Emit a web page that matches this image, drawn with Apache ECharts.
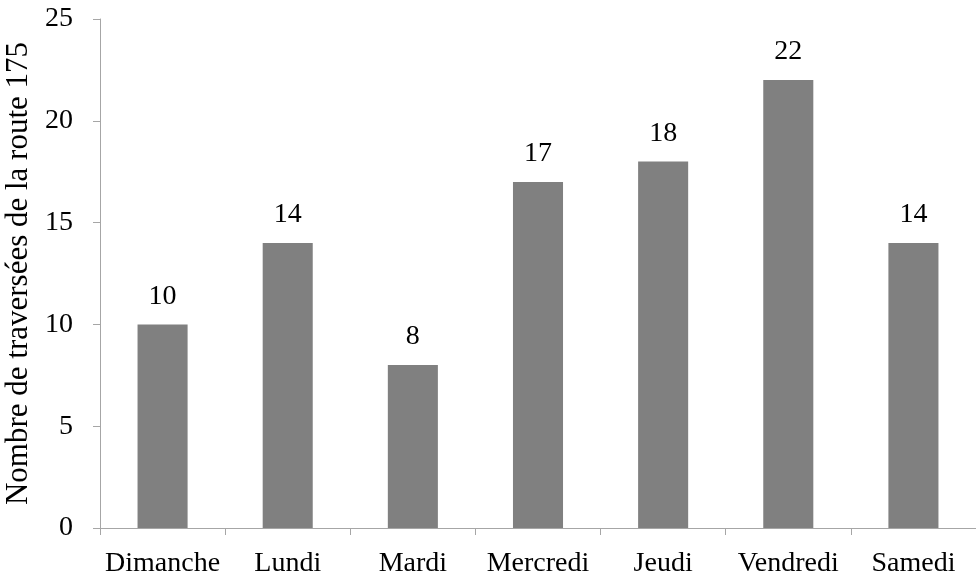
<!DOCTYPE html>
<html>
<head>
<meta charset="utf-8">
<script src="https://cdn.jsdelivr.net/npm/echarts@6/dist/echarts.min.js"></script>
<style>
  html, body { margin: 0; padding: 0; background: #fff; }
  #chart { width: 976px; height: 580px; }
</style>
</head>
<body>
<div id="chart"></div>
<script>
// Weekly crossings of route 175, by day
const days = ['Dimanche', 'Lundi', 'Mardi', 'Mercredi', 'Jeudi', 'Vendredi', 'Samedi'];
const crossings = [10, 14, 8, 17, 18, 22, 14];
const yTitle = 'Nombre de traversées de la route 175';

const font = '"Liberation Serif", "Times New Roman", serif';
const axisGrey = '#a6a6a6';

const chart = echarts.init(document.getElementById('chart'), null, { renderer: 'canvas' });
chart.setOption({
  animation: false,
  grid: { left: 100, right: 0, top: 19, bottom: 52, containLabel: false, outerBoundsMode: 'none' },
  xAxis: {
    type: 'category',
    data: days,
    axisLine: { show: true, lineStyle: { color: axisGrey, width: 1 } },
    axisTick: { show: true, alignWithLabel: false, length: 7, lineStyle: { color: axisGrey } },
    axisLabel: { color: '#000', fontFamily: font, fontSize: 28, margin: 22, interval: 0 }
  },
  yAxis: {
    type: 'value',
    min: 0,
    max: 25,
    interval: 5,
    name: yTitle,
    nameLocation: 'middle',
    nameGap: 64,
    nameTextStyle: { color: '#000', fontFamily: font, fontSize: 31 },
    splitLine: { show: false },
    axisLine: { show: true, lineStyle: { color: axisGrey, width: 1 } },
    axisTick: { show: true, length: 7, lineStyle: { color: axisGrey } },
    axisLabel: { color: '#000', fontFamily: font, fontSize: 28, margin: 27 }
  },
  series: [{
    type: 'bar',
    data: crossings,
    barWidth: '40%',
    itemStyle: { color: '#808080' },
    label: {
      show: true,
      position: 'top',
      distance: 14,
      color: '#000',
      fontFamily: font,
      fontSize: 28
    }
  }]
});
</script>
</body>
</html>
